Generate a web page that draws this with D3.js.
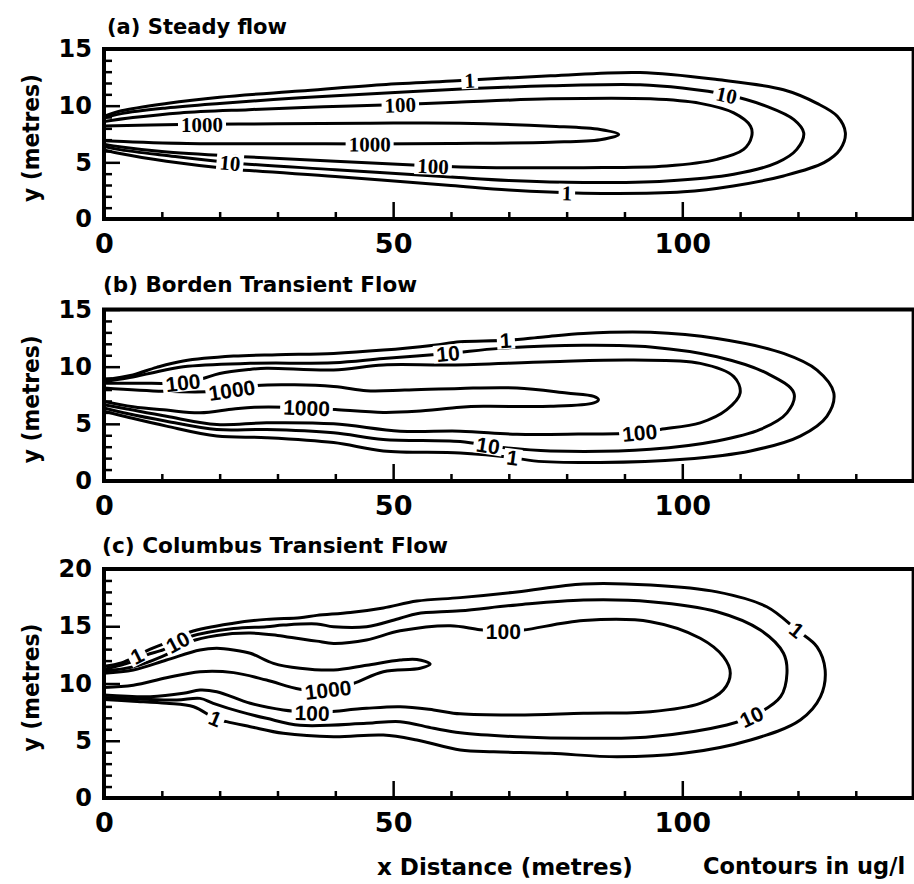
<!DOCTYPE html>
<html>
<head>
<meta charset="utf-8">
<script src="https://cdn.jsdelivr.net/npm/d3@7"></script>
<style>
  html, body { margin: 0; padding: 0; background: #fff; }
  svg { display: block; }
</style>
</head>
<body>
<svg id="chart" width="914" height="884"></svg>
<script>
// Concentration contour levels (ug/l), outermost first
const levels = [1, 10, 100, 1000];

// Distance axis
const xMax = 140;
const xTickLabels = [0, 50, 100];
const xMinorStep = 10;

// ---- (a) Steady flow : contour traces [x, y] in metres ----
const steady1 = [[0,9.06],[3,9.55],[10.8,10.2],[20,10.75],[33.9,11.3],[48,11.85],[61,12.2],[77.2,12.63],[92.7,12.92],[106,12.3],[117.5,11.4],[123.3,10.2],[126.8,9.06],[128.2,7.6],[127.3,6.14],[124.5,4.97],[117.5,3.8],[108.8,2.92],[100.2,2.4],[82.9,2.28],[70,2.55],[60,2.95],[40,3.75],[22.4,4.4],[10.8,5.1],[3,5.75],[0,6.1]];
const steady10 = [[0,8.9],[3,9.3],[10.8,9.8],[20,10.2],[33.9,10.7],[48,11.1],[61,11.45],[77.2,11.75],[92.7,11.84],[100,11.55],[107.7,10.96],[114.6,9.94],[119.3,8.77],[121,7.6],[119.8,6.14],[116.4,4.97],[108.9,3.95],[97.3,3.36],[82.9,3.22],[70,3.4],[60,3.7],[40,4.35],[21.8,4.97],[10.8,5.6],[3,6.1],[0,6.4]];
const steady100 = [[0,8.6],[5,8.95],[13.1,9.36],[25,9.65],[38,9.9],[51.2,10.1],[61,10.3],[77.2,10.6],[94.5,10.6],[103.1,10.2],[108.9,9.36],[111.8,8.19],[112,7.3],[110.6,6.14],[106,5.26],[97.3,4.68],[82.9,4.53],[65.6,4.55],[57,4.68],[40,5.1],[24,5.5],[10,5.95],[3,6.35],[0,6.6]];
const steady1000 = [[0,8.2],[13.1,8.33],[30,8.4],[46,8.45],[61.6,8.45],[77.2,8.19],[85.8,7.9],[89,7.46],[85.8,7.0],[77.2,6.78],[59.9,6.67],[46,6.62],[30,6.65],[16.6,6.65],[5,6.8],[0,6.9]];
const steadyLabels = [
  {v: 1, x: 63.3, y: 12.2}, {v: 10, x: 107.7, y: 10.96}, {v: 100, x: 51.2, y: 10.1},
  {v: 1000, x: 17, y: 8.35}, {v: 1000, x: 46, y: 6.62}, {v: 100, x: 57, y: 4.68},
  {v: 10, x: 21.8, y: 4.97}, {v: 1, x: 80, y: 2.3}
];

// ---- (b) Borden transient flow ----
const borden1 = [[0,8.85],[5,9.28],[9.1,9.94],[13.7,10.5],[22.4,10.93],[30,11.05],[39.7,11.16],[48.3,11.45],[57,11.88],[61.6,12.17],[69.4,12.3],[76,12.6],[82.9,12.9],[94.5,13.0],[106,12.46],[117.5,11.16],[123.3,9.7],[126.2,7.69],[125,5.66],[120.4,3.93],[111.8,2.63],[100.2,1.9],[85.8,1.62],[74.3,1.76],[70.6,2.05],[61.6,2.45],[48.3,2.63],[39.7,3.36],[28.1,3.79],[19.5,3.93],[10.8,4.8],[4,5.6],[0,6.1]];
const borden10 = [[0,8.7],[4,9.0],[8,9.43],[13.7,10.0],[25.3,10.29],[39.7,10.35],[48.3,10.72],[59.5,11.16],[68.5,11.6],[82.9,11.88],[94.5,11.73],[106,10.87],[114.6,9.43],[119.3,7.69],[118.1,5.96],[113.5,4.51],[106,3.5],[94.5,2.78],[77.2,2.63],[68.5,2.95],[61.6,3.45],[48.3,3.64],[39.7,4.22],[28.1,4.51],[19.5,4.51],[10.8,5.23],[4,5.9],[0,6.39]];
const borden100 = [[0,8.56],[6,8.55],[13.7,8.6],[17,8.95],[20,9.4],[25,9.75],[28.1,9.86],[39.7,9.71],[48.3,10.15],[60,10.15],[77.2,10.43],[91.6,10.58],[103.1,10.29],[108.9,9.13],[110,7.69],[107.7,6.24],[103.1,5.09],[96.2,4.51],[92.7,4.22],[82,4.1],[71.4,4.08],[61.6,4.36],[51.2,4.36],[39.7,5.0],[28.1,5.09],[19.5,4.94],[10.8,5.66],[4,6.3],[0,6.68]];
const borden1000 = [[0,8.13],[10.3,7.84],[17.8,7.8],[22.1,7.95],[26.4,8.35],[39.7,8.27],[45.4,7.9],[52,7.95],[61.6,8.1],[71.4,8.13],[80,7.69],[84.7,7.4],[85.5,7.11],[84.7,6.83],[77.2,6.53],[65.6,6.53],[61.6,6.45],[54,6.1],[48.3,6.0],[40,6.25],[35,6.4],[26,6.45],[22.4,6.3],[16.6,5.96],[10.8,6.2],[5,6.5],[0,6.96]];
const bordenLabels = [
  {v: 1, x: 69.4, y: 12.3}, {v: 10, x: 59.5, y: 11.16}, {v: 100, x: 13.7, y: 8.5},
  {v: 1000, x: 22.1, y: 7.9}, {v: 1000, x: 35, y: 6.4}, {v: 100, x: 92.7, y: 4.22},
  {v: 10, x: 66.4, y: 3.2}, {v: 1, x: 70.6, y: 2.05}
];

// ---- (c) Columbus transient flow ----
const columbus1 = [[0,11.5],[3,11.8],[5.65,12.4],[8,13.0],[10.5,13.5],[14.9,14.5],[22.4,15.26],[28.1,15.6],[33.9,15.75],[36.8,15.95],[42.6,16.2],[48.3,16.6],[54.1,17.2],[61.6,17.5],[71.4,18.0],[82.9,18.7],[94.5,18.6],[106,18.0],[114.6,16.7],[119.8,14.67],[123.3,13.2],[124.7,11.18],[123.9,8.85],[120.4,6.81],[111.8,5.07],[100.2,3.9],[88.7,3.6],[77.2,3.9],[67.4,4.04],[61.6,4.2],[54.1,5.07],[48.3,5.5],[39.7,5.35],[31,5.65],[25.3,6.23],[21.2,6.67],[19.2,6.96],[15.5,7.97],[10.8,8.27],[5,8.45],[0,8.6]];
const columbus10 = [[0,11.25],[3,11.6],[5.5,12.05],[7.4,12.5],[10.3,12.95],[12.7,13.6],[14.9,14.1],[22.4,14.8],[28.1,14.96],[31,15.1],[36.8,15.2],[39.7,14.96],[45.4,14.96],[51.2,15.7],[54.1,16.1],[61.6,16.35],[71.4,16.86],[82.9,17.29],[94.5,17.15],[106,16.27],[113.5,14.67],[117.5,12.64],[118.1,10.9],[117,8.85],[112,7.1],[107.7,6.38],[94.5,5.35],[82.9,5.21],[71.4,5.35],[61.6,5.7],[57,6.09],[51.2,6.67],[45.4,6.52],[33.9,6.35],[28.1,6.96],[23.5,7.54],[18.9,8.27],[16.6,8.7],[12.6,8.56],[6,8.65],[0,8.75]];
const columbus100 = [[0,11.1],[5,11.45],[10,12.35],[13,13.1],[14.9,13.65],[19.5,14.2],[25.3,14.4],[30,14.2],[33.9,13.9],[36.8,13.7],[39.7,13.5],[45.4,13.8],[51.2,14.6],[59.9,15.05],[65,14.7],[69.1,14.55],[72.5,14.67],[82.9,15.5],[94.5,15.4],[103.1,13.95],[107.1,12.34],[108.3,10.9],[107.1,9.43],[103.1,8.27],[94.5,7.54],[82.9,7.4],[71.4,7.25],[61.6,7.35],[57,7.69],[51.2,7.97],[45.4,7.83],[39.1,7.54],[36,7.42],[33.9,7.54],[31,7.69],[25.3,8.27],[19.5,9.28],[16.6,9.43],[13.7,9.14],[8,8.85],[0,9.0]];
const columbus1000 = [[0,10.9],[5.07,11.18],[10.8,12.05],[16.6,12.93],[19.5,13.07],[22.4,12.93],[25.3,12.64],[29.3,11.76],[33.9,11.33],[39.7,11.18],[45.4,11.6],[51.2,12.05],[54.1,12.1],[56.4,11.7],[54.7,11.33],[48.3,11.03],[43.1,10.0],[38.8,9.45],[33.9,9.5],[28.1,10.3],[22.4,10.95],[16.6,11.03],[10.8,10.5],[5.07,9.85],[0,9.65]];
const columbusLabels = [
  {v: 1, x: 5.65, y: 12.4}, {v: 10, x: 12.7, y: 13.6}, {v: 1000, x: 38.8, y: 9.45},
  {v: 100, x: 36, y: 7.42}, {v: 1, x: 19.2, y: 6.96}, {v: 100, x: 69.1, y: 14.55},
  {v: 1, x: 119.8, y: 14.67}, {v: 10, x: 112, y: 7.1}
];

const panelTitles = ["(a) Steady flow", "(b) Borden Transient Flow", "(c) Columbus Transient Flow"];
const yAxisTitle = "y (metres)";
const xAxisTitle = "x Distance (metres)";
const unitsNote = "Contours in ug/l";

// Layout of the three stacked panels
const panels = [
  {key: "a", title: panelTitles[0], yMax: 15, top: 49, bottom: 219, titleX: 107, titleY: 34, titleW: 180,
   contours: [steady1, steady10, steady100, steady1000], labels: steadyLabels, labelFont: "'Liberation Serif', serif"},
  {key: "b", title: panelTitles[1], yMax: 15, top: 309.5, bottom: 481, titleX: 103, titleY: 292, titleW: 314,
   contours: [borden1, borden10, borden100, borden1000], labels: bordenLabels, labelFont: "'Liberation Sans', sans-serif"},
  {key: "c", title: panelTitles[2], yMax: 20, top: 569, bottom: 798, titleX: 102, titleY: 553, titleW: 346,
   contours: [columbus1, columbus10, columbus100, columbus1000], labels: columbusLabels, labelFont: "'Liberation Sans', sans-serif"}
];

const svg = d3.select("#chart");
const boldFont = "'DejaVu Sans', sans-serif";
const x = d3.scaleLinear().domain([0, xMax]).range([104, 104 + xMax * 5.783]);
const defs = svg.append("defs");

panels.forEach(p => {
  const y = d3.scaleLinear().domain([0, p.yMax]).range([p.bottom, p.top]);
  const g = svg.append("g").attr("class", "panel-" + p.key);
  const x0 = x(0), x1 = x(xMax), yt = y(p.yMax), yb = y(0);

  defs.append("clipPath").attr("id", "clip-" + p.key)
    .append("rect").attr("x", x0).attr("y", yt).attr("width", x1 - x0).attr("height", yb - yt);

  // contour lines
  const line = d3.line()
    .x(d => x(d[0])).y(d => y(d[1]))
    .curve(d3.curveCatmullRom.alpha(0.5));
  const paths = g.append("g").attr("clip-path", `url(#clip-${p.key})`)
    .selectAll("path").data(p.contours).join("path")
    .attr("d", line)
    .attr("fill", "none")
    .attr("stroke", "#000")
    .attr("stroke-width", 3)
    .attr("stroke-linejoin", "round")
    .attr("stroke-linecap", "round");

  // in-line contour labels, set along the local direction of their line
  const fs = 21;
  const labelLayer = g.append("g");
  p.labels.forEach(l => {
    const node = paths.nodes()[levels.indexOf(l.v)];
    const total = node.getTotalLength();
    const tx = x(l.x), ty = y(l.y);
    let best = 0, bestD = Infinity;
    for (let s = 0; s <= total; s += 1) {
      const pt = node.getPointAtLength(s);
      const d = (pt.x - tx) ** 2 + (pt.y - ty) ** 2;
      if (d < bestD) { bestD = d; best = s; }
    }
    const pc = node.getPointAtLength(best);
    const pa = node.getPointAtLength(Math.max(0, best - 8));
    const pb = node.getPointAtLength(Math.min(total, best + 8));
    let ang = Math.atan2(pb.y - pa.y, pb.x - pa.x) * 180 / Math.PI;
    if (ang > 90) ang -= 180;
    if (ang < -90) ang += 180;
    const lg = labelLayer.append("g").attr("transform", `translate(${pc.x},${pc.y}) rotate(${ang})`);
    const t = lg.append("text")
      .attr("text-anchor", "middle")
      .attr("dy", "0.36em")
      .attr("font-family", p.labelFont)
      .attr("font-weight", "bold")
      .attr("font-size", fs)
      .attr("fill", "#000")
      .text(String(l.v));
    const bb = t.node().getBBox();
    lg.insert("rect", "text")
      .attr("x", bb.x - 3).attr("y", -fs * 0.42)
      .attr("width", bb.width + 6).attr("height", fs * 0.84)
      .attr("fill", "#fff");
  });

  // y axis: minor ticks every metre, longer ticks every 5
  const yMinor = d3.range(0, p.yMax + 1).filter(v => v % 5 !== 0);
  const yMajor = d3.range(0, p.yMax + 1, 5);
  const styleAxis = (sel, size) => {
    sel.select(".domain").remove();
    sel.selectAll(".tick line").attr("stroke", "#000").attr("stroke-width", 2.5);
    sel.attr("font-family", boldFont).attr("font-weight", "bold").attr("font-size", size);
    sel.selectAll(".tick text").attr("fill", "#000");
  };
  g.append("g").attr("transform", `translate(${x0},0)`)
    .call(d3.axisLeft(y).tickValues(yMinor).tickSize(-8).tickFormat(""))
    .call(s => styleAxis(s, 24));
  g.append("g").attr("transform", `translate(${x0},0)`)
    .call(d3.axisLeft(y).tickValues(yMajor).tickSize(-16).tickPadding(12).tickFormat(d3.format("d")))
    .call(s => styleAxis(s, 24));

  // x axis: minor ticks every 10 m, longer ticks with labels at 0, 50, 100
  const xMinor = d3.range(xMinorStep, xMax, xMinorStep).filter(v => !xTickLabels.includes(v));
  g.append("g").attr("transform", `translate(0,${yb})`)
    .call(d3.axisBottom(x).tickValues(xMinor).tickSize(-7).tickFormat(""))
    .call(s => styleAxis(s, 27));
  g.append("g").attr("transform", `translate(0,${yb})`)
    .call(d3.axisBottom(x).tickValues(xTickLabels).tickSize(-17).tickPadding(15).tickFormat(d3.format("d")))
    .call(s => styleAxis(s, 27));

  // frame
  g.append("rect")
    .attr("x", x0).attr("y", yt).attr("width", x1 - x0).attr("height", yb - yt)
    .attr("fill", "none").attr("stroke", "#000").attr("stroke-width", 4);

  // panel title
  g.append("text")
    .attr("x", p.titleX).attr("y", p.titleY)
    .attr("font-family", boldFont).attr("font-weight", "bold").attr("font-size", 21)
    .attr("textLength", p.titleW).attr("lengthAdjust", "spacingAndGlyphs")
    .attr("fill", "#000")
    .text(p.title);

  // y axis title
  const yc = (yt + yb) / 2 + 4;
  g.append("text")
    .attr("transform", `translate(39,${yc}) rotate(-90)`)
    .attr("text-anchor", "middle")
    .attr("font-family", boldFont).attr("font-weight", "bold").attr("font-size", 23)
    .attr("textLength", 128).attr("lengthAdjust", "spacingAndGlyphs")
    .attr("fill", "#000")
    .text(yAxisTitle);
});

// bottom captions
svg.append("text")
  .attr("x", 377).attr("y", 875)
  .attr("font-family", boldFont).attr("font-weight", "bold").attr("font-size", 23)
  .attr("fill", "#000")
  .text(xAxisTitle);
svg.append("text")
  .attr("x", 703).attr("y", 874)
  .attr("font-family", boldFont).attr("font-weight", "bold").attr("font-size", 22.5)
  .attr("fill", "#000")
  .text(unitsNote);
</script>
</body>
</html>
